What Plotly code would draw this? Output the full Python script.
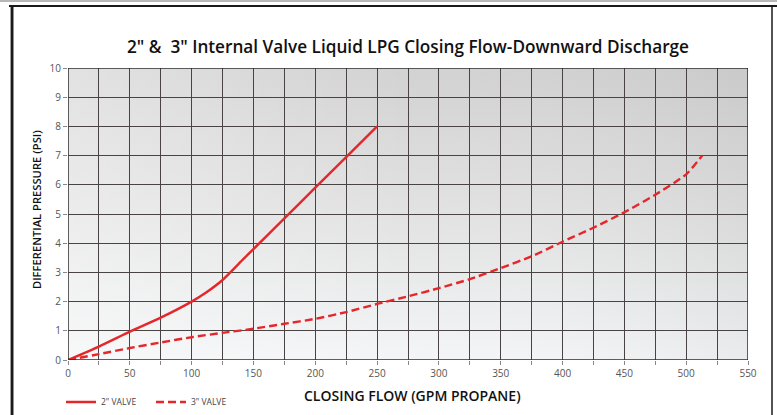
import base64
import plotly.graph_objects as go

# Closing-flow curves, flow in GPM propane vs differential pressure in PSI
flow_2in = [0, 25, 50, 75, 100, 112, 125, 141, 150, 175, 200, 225, 250]
psi_2in = [0, 0.46, 0.97, 1.45, 2.0, 2.32, 2.74, 3.42, 3.8, 4.85, 5.9, 6.95, 8.0]

flow_3in = [0, 25, 50, 75, 100, 125, 150, 175, 200, 225, 250, 275, 300, 325,
            350, 375, 400, 425, 450, 475, 500, 513]
psi_3in = [0, 0.2, 0.41, 0.6, 0.78, 0.93, 1.07, 1.24, 1.41, 1.64, 1.92, 2.18,
           2.46, 2.77, 3.15, 3.55, 4.05, 4.53, 5.06, 5.66, 6.36, 7.0]

x_ticks = list(range(0, 551, 50))
y_ticks = list(range(0, 11, 1))

W, H = 777, 415
ML, MR, MT, MB = 68, 29, 68, 55
PW, PH = W - ML - MR, H - MT - MB


def px(x):
    return (x - ML) / PW


def py(y):
    return (H - MB - y) / PH


def svg_uri(svg):
    return "data:image/svg+xml;base64," + base64.b64encode(svg.encode()).decode()


RED = "#e5262b"
GRID = "#4a4343"

# shaded panel behind the grid
panel_svg = f"""<svg xmlns='http://www.w3.org/2000/svg' width='{PW}' height='{PH}' viewBox='0 0 {PW} {PH}'>
<defs>
<linearGradient id='v' x1='0' y1='0' x2='0' y2='1'>
<stop offset='0' stop-color='#d2d2d2'/>
<stop offset='0.5' stop-color='#e2e2e2'/>
<stop offset='1' stop-color='#f3f5f6'/>
</linearGradient>
<linearGradient id='h' x1='0' y1='0' x2='1' y2='0'>
<stop offset='0' stop-color='#ffffff' stop-opacity='0.35'/>
<stop offset='0.5' stop-color='#ffffff' stop-opacity='0'/>
<stop offset='1' stop-color='#000000' stop-opacity='0.04'/>
</linearGradient>
<filter id='b'><feGaussianBlur stdDeviation='1.5'/></filter>
</defs>
<rect width='{PW}' height='{PH}' fill='url(#v)'/>
<rect width='{PW}' height='{PH}' fill='url(#h)'/>
<line x1='{PW-2}' y1='0' x2='{PW-2}' y2='{PH}' stroke='#555' stroke-width='4' filter='url(#b)'/>
<line x1='0' y1='{PH-2}' x2='{PW}' y2='{PH-2}' stroke='#777' stroke-width='3' filter='url(#b)'/>
</svg>"""

# page frame around the whole figure
frame_svg = f"""<svg xmlns='http://www.w3.org/2000/svg' width='{W}' height='{H}' viewBox='0 0 {W} {H}'>
<line x1='0' y1='1' x2='{W}' y2='1' stroke='#a0a0a0' stroke-width='1.5'/>
<line x1='9' y1='6' x2='{W}' y2='6' stroke='#1a1a1a' stroke-width='2'/>
<line x1='12' y1='6' x2='12' y2='{H}' stroke='#1a1a1a' stroke-width='2.5'/>
<line x1='772' y1='6' x2='772' y2='{H}' stroke='#1a1a1a' stroke-width='1.5'/>
</svg>"""

fig = go.Figure()
fig.add_trace(go.Scatter(
    x=flow_2in, y=psi_2in, mode="lines", name='2" VALVE',
    line=dict(color=RED, width=2.4, shape="spline", smoothing=0.6),
))
fig.add_trace(go.Scatter(
    x=flow_3in, y=psi_3in, mode="lines", name='3" VALVE',
    line=dict(color=RED, width=2.4, dash="8px,4px", shape="spline", smoothing=0.6),
))

fig.update_layout(
    width=W, height=H,
    margin=dict(l=ML, r=MR, t=MT, b=MB, autoexpand=False),
    paper_bgcolor="white",
    plot_bgcolor="#e2e2e2",
    font=dict(family="Open Sans, sans-serif", color="#555555"),
    title=dict(
        text='2" &amp;  3" Internal Valve Liquid LPG Closing Flow-Downward Discharge',
        x=0.5, xref="paper", xanchor="center",
        y=1 - 47 / H, yanchor="middle",
        font=dict(family="Open Sans, sans-serif", size=17.2, color="#111111", weight=600),
    ),
    xaxis=dict(
        range=[0, 550], tickvals=x_ticks, ticktext=[str(v) for v in x_ticks],
        showgrid=True, gridcolor=GRID, gridwidth=1.3,
        minor=dict(dtick=25, showgrid=True, gridcolor=GRID, gridwidth=1.3,
                   ticks="outside", ticklen=4, tickcolor="#888888"),
        ticks="outside", ticklen=4, tickcolor="#888888",
        zeroline=False, showline=False, automargin=False,
        tickfont=dict(size=10, color="#555555"),
    ),
    yaxis=dict(
        range=[0, 10], tickvals=y_ticks, ticktext=[str(v) for v in y_ticks],
        showgrid=True, gridcolor=GRID, gridwidth=1.3,
        ticks="outside", ticklen=4, tickcolor="#888888",
        zeroline=False, showline=False, automargin=False,
        tickfont=dict(size=10, color="#555555"),
    ),
    annotations=[
        dict(text="CLOSING FLOW (GPM PROPANE)", xref="paper", yref="paper",
             x=px(412), y=py(395), xanchor="center", yanchor="middle",
             showarrow=False, font=dict(size=14, color="#111111", weight=600)),
        dict(text="DIFFERENTIAL PRESSURE (PSI)", xref="paper", yref="paper",
             x=px(37), y=py(210), xanchor="center", yanchor="middle",
             textangle=-90, showarrow=False,
             font=dict(size=11.2, color="#111111", weight=600)),
    ],
    legend=dict(
        orientation="h", xref="container", x=61 / W, xanchor="left",
        yref="container", y=1 - 402 / H, yanchor="middle",
        font=dict(size=8.5, color="#444444"), bgcolor="rgba(0,0,0,0)",
        entrywidth=45, entrywidthmode="pixels", itemwidth=30,
    ),
    images=[
        dict(source=svg_uri(panel_svg), xref="paper", yref="paper", x=0, y=1,
             sizex=1, sizey=1, xanchor="left", yanchor="top",
             sizing="stretch", layer="below"),
        dict(source=svg_uri(frame_svg), xref="paper", yref="paper",
             x=px(0), y=py(0), sizex=W / PW, sizey=H / PH,
             xanchor="left", yanchor="top", sizing="stretch", layer="above"),
    ],
    shapes=[
        dict(type="rect", xref="x", yref="y", x0=0, x1=550, y0=0, y1=10,
             line=dict(color="#2e2e2e", width=1.5), layer="above"),
        # left edge of the page frame as a solid bar
        dict(type="rect", xref="paper", yref="paper",
             x0=px(10.8), x1=px(13.3), y0=py(6), y1=py(H + 4),
             fillcolor="#1a1a1a", line=dict(width=0), layer="above"),
    ],
)

fig.write_html("out.html")
